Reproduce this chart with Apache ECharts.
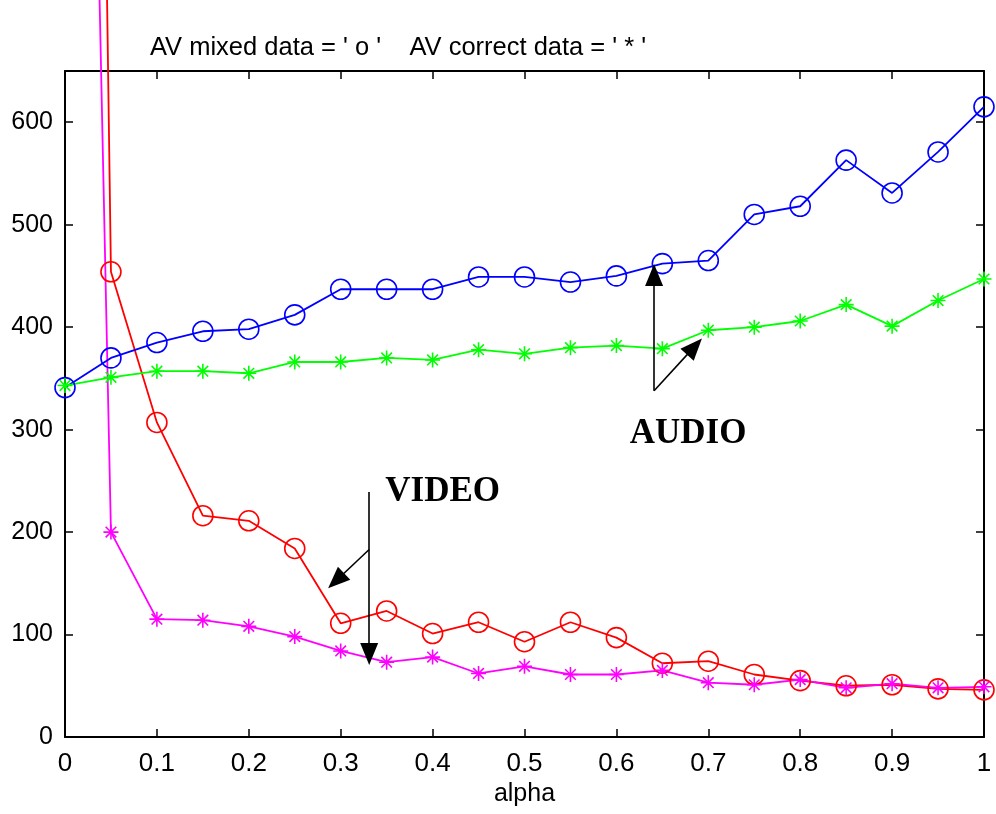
<!DOCTYPE html>
<html>
<head>
<meta charset="utf-8">
<script src="https://cdn.jsdelivr.net/npm/echarts@6/dist/echarts.min.js"></script>
<style>
html,body{margin:0;padding:0;background:#fff;}
#c{width:996px;height:814px;}
</style>
</head>
<body>
<div id="c"></div>
<script>
// ---- data ----
var alpha = [0, 0.05, 0.1, 0.15, 0.2, 0.25, 0.3, 0.35, 0.4, 0.45, 0.5, 0.55, 0.6, 0.65, 0.7, 0.75, 0.8, 0.85, 0.9, 0.95, 1.0];
var audioMixed   = [341, 370, 385, 396, 398, 412, 437, 437, 437, 449, 449, 444, 450, 462, 465, 510, 518, 563, 531, 571, 615];
var audioCorrect = [343, 351, 357, 357, 355, 366, 366, 370, 368, 378, 374, 380, 382, 379, 397, 400, 406, 422, 401, 426, 447];
var videoMixed   = [3600, 454, 307, 216, 211, 184, 111, 123, 101, 112, 93, 112, 97, 72, 74, 61, 55, 50, 51, 47, 46];
var videoCorrect = [2300, 200, 115, 114, 108, 98, 84, 73, 78, 62, 69, 61, 61, 65, 53, 51, 56, 48, 52, 48, 49];
var yTicks = [0, 100, 200, 300, 400, 500, 600];
var titleText = "AV mixed data = ' o '    AV correct data = ' * '";
var xName = 'alpha';
// annotation arrows [from, arrowhead centre] in data coords
var audioArrows = [[[0.641, 338], [0.641, 451]], [[0.641, 338], [0.685, 381]]];
var videoArrows = [[[0.331, 239], [0.331, 81]], [[0.331, 183], [0.295, 152.5]]];
var labelAudio = {text: 'AUDIO', at: [0.678, 296]};
var labelVideo = {text: 'VIDEO', at: [0.411, 239]};

function pairs(ys) { return ys.map(function (v, i) { return [alpha[i], v]; }); }

var starPath = 'path://M0,-10L0,10M-10,0L10,0M-7.07,-7.07L7.07,7.07M-7.07,7.07L7.07,-7.07';
var FONT = "'Liberation Sans', Arial, sans-serif";

function lineSeries(name, ys, color, marker) {
  var isStar = marker === 'star';
  return {
    name: name, type: 'line', data: pairs(ys), clip: false,
    symbol: isStar ? starPath : 'circle',
    symbolSize: isStar ? 15 : 20,
    showAllSymbol: true,
    lineStyle: {color: color, width: 1.8},
    itemStyle: {color: 'rgba(0,0,0,0)', borderColor: color, borderWidth: 1.6},
    emphasis: {disabled: true},
    z: 3
  };
}

function arrowLines(arr) {
  return arr.map(function (a) { return [{coord: a[0]}, {coord: a[1]}]; });
}

var sAM = lineSeries('AV mixed audio', audioMixed, '#0000ff', 'circle');
var sAC = lineSeries('AV correct audio', audioCorrect, '#00ff00', 'star');
var sVM = lineSeries('AV mixed video', videoMixed, '#ff0000', 'circle');
var sVC = lineSeries('AV correct video', videoCorrect, '#ff00ff', 'star');

var annotLabel = {show: true, position: 'inside', color: '#000', fontFamily: "'Liberation Serif', 'Times New Roman', serif", fontWeight: 'bold', fontSize: 35};

var annot = {
  type: 'line', data: [], silent: true,
  markLine: {
    silent: true, animation: false,
    symbol: ['none', 'triangle'], symbolSize: [18, 22],
    itemStyle: {color: '#000'},
    lineStyle: {color: '#000', width: 1.6, type: 'solid'},
    label: {show: false},
    data: arrowLines(audioArrows).concat(arrowLines(videoArrows))
  },
  markPoint: {
    silent: true, animation: false,
    symbol: 'circle', symbolSize: 1,
    itemStyle: {color: 'rgba(0,0,0,0)'},
    data: [
      {coord: labelAudio.at, label: Object.assign({formatter: labelAudio.text}, annotLabel)},
      {coord: labelVideo.at, label: Object.assign({formatter: labelVideo.text}, annotLabel)}
    ]
  }
};

var chart = echarts.init(document.getElementById('c'), null, {renderer: 'canvas'});
chart.setOption({
  animation: false,
  backgroundColor: '#fff',
  title: {
    text: titleText, left: 145, top: 30,
    textStyle: {fontFamily: FONT, fontWeight: 'normal', fontSize: 25.5, color: '#000'}
  },
  grid: {left: 65, right: 12, top: 71, bottom: 77, containLabel: false},
  xAxis: [{
    type: 'value', min: 0, max: 1, interval: 0.1, position: 'bottom',
    name: xName, nameLocation: 'middle', nameGap: 43,
    nameTextStyle: {fontFamily: FONT, fontSize: 25, color: '#000'},
    axisLine: {show: true, onZero: false, lineStyle: {color: '#000', width: 2}},
    axisTick: {show: true, inside: true, length: 8, lineStyle: {color: '#000', width: 1.5}},
    axisLabel: {show: true, margin: 14, fontFamily: FONT, fontSize: 26, color: '#000'},
    splitLine: {show: false}
  }, {
    type: 'value', min: 0, max: 1, interval: 0.1, position: 'top',
    axisLine: {show: true, onZero: false, lineStyle: {color: '#000', width: 2}},
    axisTick: {show: true, inside: true, length: 8, lineStyle: {color: '#000', width: 1.5}},
    axisLabel: {show: false}, splitLine: {show: false}
  }],
  yAxis: [{
    type: 'value', min: 0, max: 650, interval: 100, position: 'left',
    axisLine: {show: true, onZero: false, lineStyle: {color: '#000', width: 2}},
    axisTick: {show: true, inside: true, length: 8, lineStyle: {color: '#000', width: 1.5}},
    axisLabel: {show: true, margin: 12, fontFamily: FONT, fontSize: 25, color: '#000', showMaxLabel: false,
      formatter: function (v) { return yTicks.indexOf(v) >= 0 ? String(v) : ''; }},
    splitLine: {show: false}
  }, {
    type: 'value', min: 0, max: 650, interval: 100, position: 'right',
    axisLine: {show: true, onZero: false, lineStyle: {color: '#000', width: 2}},
    axisTick: {show: true, inside: true, length: 8, lineStyle: {color: '#000', width: 1.5}},
    axisLabel: {show: false}, splitLine: {show: false}
  }],
  series: [sVM, sVC, sAM, sAC, annot]
});
</script>
</body>
</html>
